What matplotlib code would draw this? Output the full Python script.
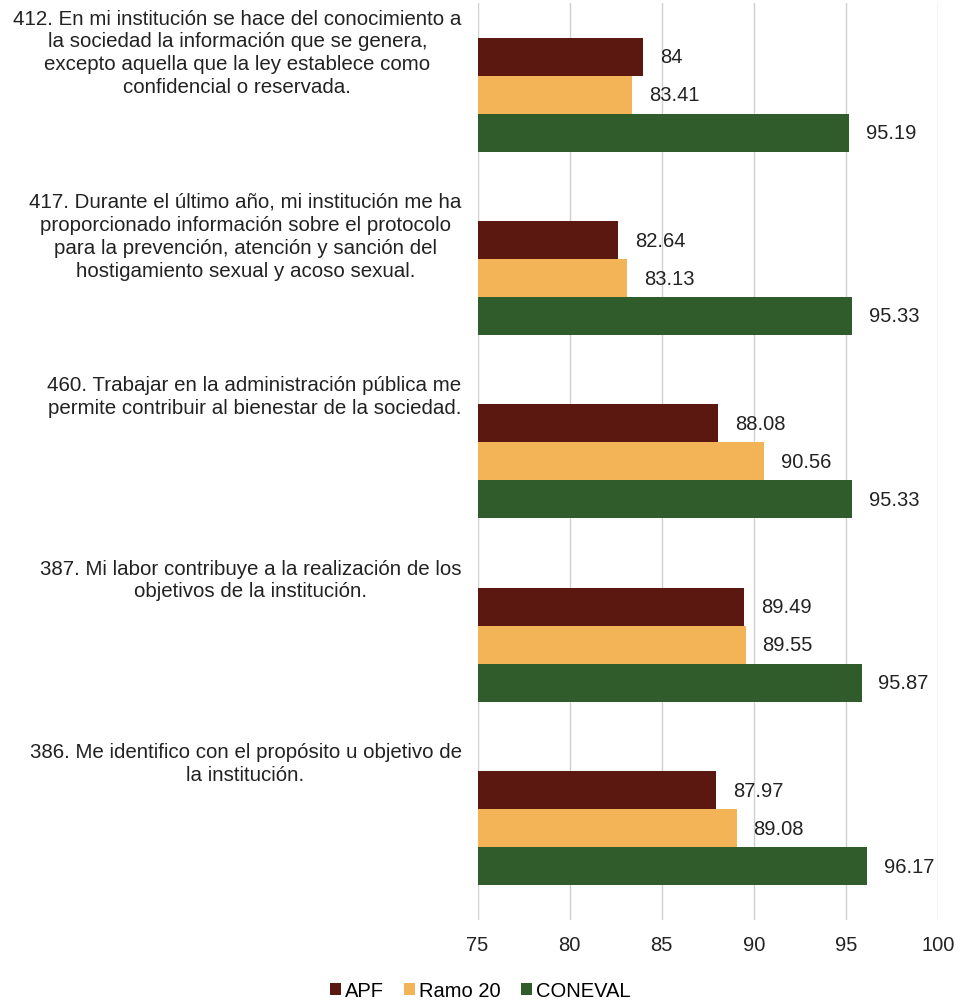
import matplotlib.pyplot as plt
import numpy as np

preguntas = [
    "412. En mi institución se hace del conocimiento a\nla sociedad la información que se genera,\nexcepto aquella que la ley establece como\nconfidencial o reservada.",
    "417. Durante el último año, mi institución me ha\nproporcionado información sobre el protocolo\npara la prevención, atención y sanción del\nhostigamiento sexual y acoso sexual.",
    "460. Trabajar en la administración pública me\npermite contribuir al bienestar de la sociedad.",
    "387. Mi labor contribuye a la realización de los\nobjetivos de la institución.",
    "386. Me identifico con el propósito u objetivo de\nla institución.",
]
apf = [84, 82.64, 88.08, 89.49, 87.97]
ramo20 = [83.41, 83.13, 90.56, 89.55, 89.08]
coneval = [95.19, 95.33, 95.33, 95.87, 96.17]
series = ["APF", "Ramo 20", "CONEVAL"]
colores = ["#5a1810", "#f2b457", "#2f5c2a"]

plt.rcParams['font.family'] = ['Liberation Sans', 'DejaVu Sans']

fig = plt.figure(figsize=(9.61, 10.03), dpi=100)
ax = fig.add_axes([0.497, 0.082, 0.479, 0.914])

y = np.arange(len(preguntas))
h = 0.207
for k, (vals, nombre, c) in enumerate(zip([apf, ramo20, coneval], series, colores)):
    pos = y + (k - 1) * h
    ax.barh(pos, np.array(vals) - 75, left=75, height=h, color=c, label=nombre, zorder=2)
    for p, v in zip(pos, vals):
        ax.text(v + 0.9, p, f"{v:g}", va='center', ha='left', fontsize=14.5, color='#222222')

ax.set_xlim(75, 100)
ax.set_ylim(len(preguntas) - 0.5, -0.5)
ax.set_xticks([75, 80, 85, 90, 95, 100])
ax.set_yticks([])
ax.tick_params(axis='x', length=0, labelsize=14.5, pad=11, colors='#222222')
ax.grid(axis='x', color='#d0d0d0', linewidth=1, zorder=0)
for s in ax.spines.values():
    s.set_visible(False)

trans = ax.get_yaxis_transform()
for i, q in enumerate(preguntas):
    ax.text(-0.035, i - 0.47, q, transform=trans, ha='right', va='top',
            multialignment='center', fontsize=14.8, color='#222222', linespacing=1.26)

fig.legend(loc='lower center', bbox_to_anchor=(0.5, -0.016), ncol=3, frameon=False,
           fontsize=14.5, handlelength=0.55, handleheight=0.55, handletextpad=0.2,
           columnspacing=1.0)

fig.savefig("out.png", dpi=100)
